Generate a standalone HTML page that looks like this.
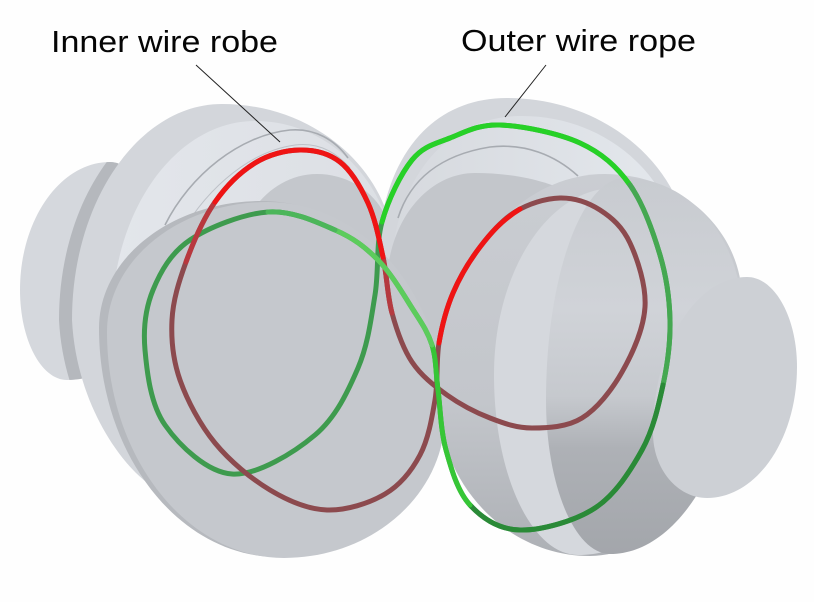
<!DOCTYPE html>
<html><head><meta charset="utf-8"><style>html,body{margin:0;padding:0;background:#fff}svg{display:block}</style></head>
<body>
<svg width="814" height="602" viewBox="0 0 814 602" xmlns="http://www.w3.org/2000/svg">
<defs>
  <clipPath id="hubclip"><path d="M110,162 C137.6,162 160,210.4 160,270 C160,330.7 118.3,380 67,380 C41.1,380 20,339.7 20,290 C20,219.3 60.3,162 110,162Z"/></clipPath>
  <linearGradient id="rbf" x1="0" y1="0" x2="1" y2="0"><stop offset="0" stop-color="#d6d9de"/><stop offset="1" stop-color="#e4e8ed"/></linearGradient>
  <linearGradient id="lbf" x1="0" y1="0" x2="1" y2="0"><stop offset="0" stop-color="#e3e6eb"/><stop offset="1" stop-color="#dcdfe4"/></linearGradient>
  <linearGradient id="rff" gradientUnits="userSpaceOnUse" x1="0" y1="174" x2="0" y2="556"><stop offset="0" stop-color="#cacdd2"/><stop offset="0.6" stop-color="#c3c6cb"/><stop offset="1" stop-color="#adb0b5"/></linearGradient>
  <linearGradient id="rc" gradientUnits="userSpaceOnUse" x1="0" y1="178" x2="0" y2="554"><stop offset="0" stop-color="#c8cbd0"/><stop offset="0.35" stop-color="#d0d3d8"/><stop offset="0.58" stop-color="#c6c9ce"/><stop offset="0.72" stop-color="#aeb1b6"/><stop offset="1" stop-color="#a3a6ab"/></linearGradient>
</defs>
<rect width="814" height="602" fill="#fefefe"/>

<!-- far left hub (shaft) -->
<path d="M110,162 C137.6,162 160,210.4 160,270 C160,330.7 118.3,380 67,380 C41.1,380 20,339.7 20,290 C20,219.3 60.3,162 110,162Z" fill="#d5d8dd"/>
<g clip-path="url(#hubclip)">
  <path transform="translate(-13,0)" d="M222,104 C317.5,104 395,173.9 395,260 C395,420 250,530 150,485 C118,462 76,400 72,320 C72,200.8 139.2,104 222,104Z" fill="#b5b8bd"/>
</g>

<!-- left back flange -->
<path d="M222,104 C317.5,104 395,173.9 395,260 C395,420 250,530 150,485 C118,462 76,400 72,320 C72,200.8 139.2,104 222,104Z" fill="#d3d6db"/>
<path d="M255,121 C332.3,121 395,187.8 395,270 C395,408 330,520 250,520 C173.8,520 112,430.4 112,320 C112,210.2 176.1,121 255,121Z" fill="url(#lbf)"/>
<path d="M165,225 C190,175 240,135 290,130 C315,128 335,140 348,158" fill="none" stroke="#a7abb1" stroke-width="1.6"/>
<path d="M178,240 C200,196 245,152 295,145 C318,142 336,152 350,168" fill="none" stroke="#bdc1c7" stroke-width="1"/>
<!-- left hub -->
<path d="M317,174 C358.4,174 392,205.8 392,245 C392,330.6 350.8,400 300,400 C264.1,400 235,341.8 235,270 C235,217 271.7,174 317,174Z" fill="#c4c7cc"/>

<!-- right back flange -->
<path d="M507,98 C608,98 690,170.6 690,260 C690,375.9 622.8,470 540,470 C450,470 377,381.3 377,272 C377,164.1 426.4,98 507,98Z" fill="#d3d6db"/>
<path d="M522,116 C609.2,116 680,181.4 680,262 C680,375.7 617.3,468 540,468 C457.8,468 391,384.7 391,282 C391,182.4 443.4,116 522,116Z" fill="url(#rbf)"/>
<path d="M398,218 C410,180 440,155 490,147 C525,143 555,155 578,176" fill="none" stroke="#a7abb1" stroke-width="1.6"/>
<!-- right hub -->
<path d="M475,173 C544,173 600,198.5 600,230 C600,334.9 564.2,420 520,420 C446.6,420 387,359.5 387,285 C387,223.2 426.4,173 475,173Z" fill="#c3c6cb"/>

<!-- left front disk -->
<path d="M262,201 C360.3,201 440,296 440,413 C440,492.5 367.4,557 278,557 C179.2,557 99,454.4 99,328 C99,257.9 172,201 262,201Z" fill="#b6b9be"/>
<path d="M268,202 C365.7,202 445,297.4 445,415 C445,493.9 372.9,558 284,558 C186.3,558 107,456.8 107,332 C107,260.2 179.1,202 268,202Z" fill="#c5c8cd"/>

<!-- right front flange -->
<path d="M605,174 C680.6,174 742,230.4 742,300 C742,441.3 673.9,556 590,556 C505.5,556 437,482.5 437,392 C437,271.7 512.3,174 605,174Z" fill="url(#rff)"/>
<path d="M615,188 C684,188 740,240.4 740,305 C740,443 667.4,555 578,555 C531.6,555 494,474.4 494,375 C494,271.8 548.2,188 615,188Z" fill="#d5d8dd"/>
<path d="M625,178 C689.6,178 742,239.4 742,315 C742,446.9 682.9,554 610,554 C574.7,554 546,485 546,400 C546,277.5 581.4,178 625,178Z" fill="url(#rc)"/>
<!-- shaft face -->
<path d="M747,277 C774.6,277 797,317.3 797,367 C797,439.3 756.7,498 707,498 C677.2,498 653,468.9 653,433 C653,346.9 695.1,277 747,277Z" fill="#cdd0d5"/>

<!-- ropes -->
<g fill="none" stroke-width="5" stroke-linecap="round" stroke-linejoin="round">
  <path stroke="#3e9b4e" d="M432,345 C427.7,331.3 421,322.2 412,308 C403,293.8 390.8,273 378,260 C365.2,247 353.3,238 335,230 C316.7,222 292.2,210.3 268,212 C243.8,213.7 209.2,227 190,240 C170.8,253 160.5,271.7 153,290 C145.5,308.3 143,327.5 145,350 C147,372.5 150.5,404.3 165,425 C179.5,445.7 207,472.3 232,474 C257,475.7 294,452.7 315,435 C336,417.3 348,391.3 358,368 C368,344.7 371,319.3 375,295 C379,270.7 375.8,244.5 382,222 C388.2,199.5 400.7,174 412,160 C423.3,146 435.3,143.8 450,138 C464.7,132.2 478.3,124.2 500,125 C521.7,125.8 558.3,133 580,143 C601.7,153 616.7,166.3 630,185 C643.3,203.7 653.3,232.5 660,255 C666.7,277.5 669.5,298.3 670,320 C670.5,341.7 667.7,363.3 663,385 C658.3,406.7 653.3,429.5 642,450 C630.7,470.5 615.3,494.7 595,508 C574.7,521.3 540.8,530.5 520,530 C499.2,529.5 482.3,518.3 470,505 C457.7,491.7 451.3,469.2 446,450 C440.7,430.8 440.3,407.5 438,390 C435.7,372.5 436.3,358.7 432,345 Z"/>
  <path stroke="#27d127" d="M382,222 C388.2,199.5 400.7,174 412,160 C423.3,146 435.3,143.8 450,138 C464.7,132.2 478.3,124.2 500,125 C521.7,125.8 558.3,133 580,143 C601.7,153 616.7,166.3 630,185"/>
  <path stroke="#45a851" d="M630,185 C643.3,203.7 653.3,232.5 660,255 C666.7,277.5 669.5,298.3 670,320 C670.5,341.7 667.7,363.3 663,385"/>
  <path stroke="#2a8a37" d="M663,385 C658.3,406.7 653.3,429.5 642,450 C630.7,470.5 615.3,494.7 595,508 C574.7,521.3 540.8,530.5 520,530 C499.2,529.5 482.3,518.3 470,505"/>

  <path stroke="#8c4a4e" d="M300,150 C314.2,149.8 328.7,153.2 340,162 C351.3,170.8 360.8,187.2 368,203 C375.2,218.8 379,238.7 383,257 C387,275.3 387.2,295.5 392,313 C396.8,330.5 402.8,348.3 412,362 C421.2,375.7 434,385.7 447,395 C460,404.3 475.8,412.5 490,418 C504.2,423.5 516.7,428 532,428 C547.3,428 567,427.3 582,418 C597,408.7 611.5,390.5 622,372 C632.5,353.5 643.7,328.5 645,307 C646.3,285.5 637.5,259.2 630,243 C622.5,226.8 611.7,217.5 600,210 C588.3,202.5 574.2,197.7 560,198 C545.8,198.3 528.3,203.8 515,212 C501.7,220.2 490.3,233.5 480,247 C469.7,260.5 459.8,277 453,293 C446.2,309 442,325.2 439,343 C436,360.8 438.2,381.3 435,400 C431.8,418.7 428.3,439.3 420,455 C411.7,470.7 400.5,484.8 385,494 C369.5,503.2 346.2,510.7 327,510 C307.8,509.3 288.7,501.2 270,490 C251.3,478.8 230,461.3 215,443 C200,424.7 187.2,400.5 180,380 C172.8,359.5 171,339.7 172,320 C173,300.3 178.8,281.7 186,262 C193.2,242.3 203.5,218.5 215,202 C226.5,185.5 240.8,171.7 255,163 C269.2,154.3 285.8,150.2 300,150 Z"/>
  <path stroke="#b8383e" d="M186,262 C193.2,242.3 203.5,218.5 215,202"/>
  <path stroke="#b53a40" d="M383,257 C387,275.3 387.2,295.5 392,313"/>
  <path stroke="#ef1414" d="M215,202 C226.5,185.5 240.8,171.7 255,163 C269.2,154.3 285.8,150.2 300,150 C314.2,149.8 328.7,153.2 340,162 C351.3,170.8 360.8,187.2 368,203 C375.2,218.8 379,238.7 383,257"/>
  <path stroke="#ef1414" d="M520,209 C501.7,220.2 490.3,233.5 480,247 C469.7,260.5 459.8,277 453,293 C446.2,309 442,325.2 439,343"/>

  <path stroke="#36c636" d="M470,505 C457.7,491.7 451.3,469.2 446,450 C440.7,430.8 440.3,407.5 438,390 C435.7,372.5 436.3,358.7 432,345"/>
  <path stroke="#5ccc5c" d="M432,345 C427.7,331.3 421,322.2 412,308 C403,293.8 390.8,273 378,260 C365.2,247 353.3,238 335,230"/>
  <path stroke="#4cb65a" d="M335,230 C316.7,222 292.2,210.3 268,212"/>
</g>

<!-- leader lines -->
<line x1="196" y1="65" x2="280" y2="142" stroke="#222" stroke-width="1"/>
<line x1="546" y1="65" x2="505" y2="117" stroke="#222" stroke-width="1"/>

<!-- labels -->
<text x="51" y="52" font-family="'Liberation Sans', sans-serif" font-size="31" textLength="227" lengthAdjust="spacingAndGlyphs" fill="#050505">Inner wire robe</text>
<text x="461" y="51" font-family="'Liberation Sans', sans-serif" font-size="31" textLength="235" lengthAdjust="spacingAndGlyphs" fill="#050505">Outer wire rope</text>
</svg>
</body></html>
